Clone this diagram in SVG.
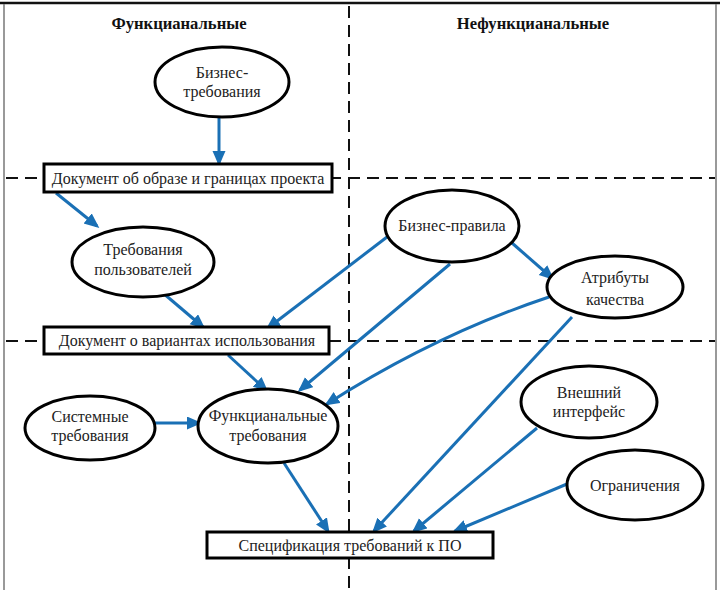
<svg xmlns="http://www.w3.org/2000/svg" width="720" height="590" viewBox="0 0 720 590">
<style>
.t{font-size:16px;fill:#222;text-anchor:middle}
.h{font-size:16.6px;font-weight:bold;fill:#111;text-anchor:middle}
.n{fill:#fff;stroke:#000;stroke-width:3}
.d{stroke:#111;stroke-width:2;stroke-dasharray:12 7;fill:none}
.c{stroke:#1a70b5;stroke-width:3;fill:none;marker-end:url(#ah)}
</style>
<defs>
<marker id="ah" markerUnits="userSpaceOnUse" markerWidth="16" markerHeight="14" refX="12" refY="6.5" orient="auto">
<path d="M0,0 L15,6.5 L0,13 z" fill="#1a70b5"/>
</marker>
</defs>
<rect width="720" height="590" fill="#fff"/>
<g font-family="Liberation Serif, Times New Roman, serif">
<g id="frame">
<line x1="0" y1="3" x2="720" y2="3" stroke="#111" stroke-width="2.5"/>
<line x1="4" y1="4" x2="4" y2="590" stroke="#777" stroke-width="1.5"/>
<line x1="716" y1="4" x2="716" y2="590" stroke="#777" stroke-width="1.5"/>
<line class="d" x1="349" y1="6" x2="349" y2="590"/>
<line class="d" x1="6" y1="178" x2="715" y2="178"/>
<line class="d" x1="6" y1="341" x2="715" y2="341"/>
<text class="h" x="179" y="29">Функцианальные</text>
<text class="h" x="533" y="29">Нефункцианальные</text>
</g>
<g id="connectors">
<line class="c" x1="219" y1="117" x2="219" y2="163"/>
<line class="c" x1="56" y1="193" x2="97" y2="226"/>
<line class="c" x1="163" y1="293" x2="203" y2="327"/>
<line class="c" x1="228" y1="355" x2="266" y2="390"/>
<line class="c" x1="512" y1="243" x2="552" y2="278"/>
<line class="c" x1="387" y1="237" x2="268" y2="328"/>
<line class="c" x1="450" y1="264" x2="300" y2="390"/>
<path class="c" d="M549,297 Q435,335 327,404"/>
<line class="c" x1="572" y1="317" x2="374" y2="531"/>
<line class="c" x1="537" y1="428" x2="414" y2="531"/>
<line class="c" x1="567" y1="484" x2="455" y2="531"/>
<line class="c" x1="155" y1="423" x2="199" y2="423"/>
<line class="c" x1="284" y1="463" x2="328" y2="531"/>
</g>
<g id="biz-req">
<ellipse class="n" cx="222" cy="82" rx="67" ry="35"/>
<text class="t" x="222" y="78">Бизнес-</text>
<text class="t" x="222" y="97">требования</text>
</g>
<g id="vision-doc">
<rect class="n" x="44" y="164" width="288" height="28"/>
<text class="t" x="188" y="184">Документ об образе и границах проекта</text>
</g>
<g id="user-req">
<ellipse class="n" cx="143" cy="262" rx="71" ry="35"/>
<text class="t" x="143" y="255">Требования</text>
<text class="t" x="143" y="275">пользователей</text>
</g>
<g id="usecase-doc">
<rect class="n" x="44" y="327" width="285" height="27"/>
<text class="t" x="187" y="346">Документ о вариантах использования</text>
</g>
<g id="biz-rules">
<ellipse class="n" cx="452" cy="226" rx="67" ry="36"/>
<text class="t" x="452" y="231">Бизнес-правила</text>
</g>
<g id="quality">
<ellipse class="n" cx="615" cy="287" rx="68" ry="31"/>
<text class="t" x="615" y="283">Атрибуты</text>
<text class="t" x="615" y="305">качества</text>
</g>
<g id="sys-req">
<ellipse class="n" cx="90" cy="428" rx="65" ry="32"/>
<text class="t" x="90" y="422">Системные</text>
<text class="t" x="90" y="441">требования</text>
</g>
<g id="func-req">
<ellipse class="n" cx="268" cy="426" rx="70" ry="37"/>
<text class="t" x="268" y="421">Функцианальные</text>
<text class="t" x="268" y="441">требования</text>
</g>
<g id="ext-iface">
<ellipse class="n" cx="589" cy="402" rx="68" ry="36"/>
<text class="t" x="589" y="398">Внешний</text>
<text class="t" x="589" y="417">интерфейс</text>
</g>
<g id="constraints">
<ellipse class="n" cx="635" cy="485" rx="68" ry="35"/>
<text class="t" x="635" y="491">Ограничения</text>
</g>
<g id="srs">
<rect class="n" x="207" y="532" width="286" height="26"/>
<text class="t" x="350" y="551">Спецификация требований к ПО</text>
</g>
</g>
</svg>
